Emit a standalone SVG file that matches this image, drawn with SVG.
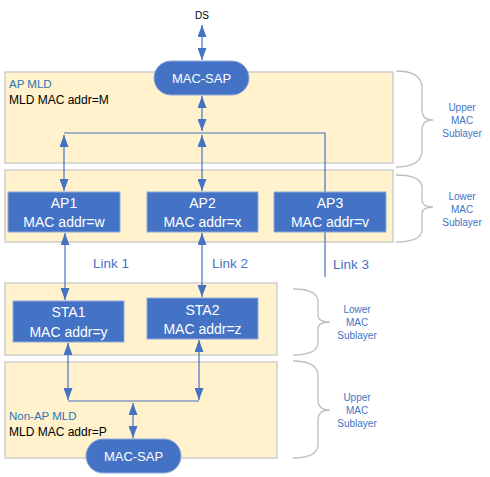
<svg xmlns="http://www.w3.org/2000/svg" width="490" height="477" viewBox="0 0 490 477">
<style>
.layer{fill:#fff2cc;stroke:#d0cece;stroke-width:1.5}
.node{fill:#4472c4;stroke:#8faadc;stroke-width:1}
.nt{fill:#ffffff;font-family:"Liberation Sans",Arial,sans-serif;font-size:14px;text-anchor:middle}
.sap{fill:#ffffff;font-family:"Liberation Sans",Arial,sans-serif;font-size:13px;text-anchor:middle}
.conn{stroke:#4472c4;stroke-width:1.2;fill:none}
.brace{stroke:#bfbfbf;stroke-width:1.3;fill:none}
.sub{fill:#4472c4;font-family:"Liberation Sans",Arial,sans-serif;font-size:10px;text-anchor:middle}
.link{fill:#4472c4;font-family:"Liberation Sans",Arial,sans-serif;font-size:13.5px}
.mld{fill:#2e75b6;font-family:"Liberation Sans",Arial,sans-serif;font-size:11.5px}
.addr{fill:#000000;font-family:"Liberation Sans",Arial,sans-serif;font-size:12px}
</style>
<defs>
<marker id="ah" markerWidth="12" markerHeight="9" refX="12" refY="4.5" orient="auto-start-reverse" markerUnits="userSpaceOnUse" viewBox="0 0 12 9">
<path d="M0,0 L12,4.5 L0,9 Z" fill="#4472c4"/>
</marker>
</defs>
<g id="layers">
<rect id="ap-upper" class="layer" x="5" y="72" width="388" height="91"/>
<rect id="ap-lower" class="layer" x="5" y="170" width="388" height="72"/>
<rect id="sta-lower" class="layer" x="5" y="283" width="272" height="72"/>
<rect id="sta-upper" class="layer" x="5" y="362" width="272" height="96"/>
</g>
<g id="braces">
<path class="brace" d="M396,71 Q422,71 422,88 L422,110 Q422,120 433,120 Q422,120 422,130 L422,150 Q422,167 396,167"/>
<path class="brace" d="M396,175 Q422,175 422,188 L422,200 Q422,207 433,207 Q422,207 422,214 L422,229 Q422,242 396,242"/>
<path class="brace" d="M293,289 Q318,289 318,302 L318,315 Q318,322 330,322 Q318,322 318,329 L318,342 Q318,355 293,355"/>
<path class="brace" d="M293,361 Q318,361 318,376 L318,400 Q318,410 330,410 Q318,410 318,420 L318,444 Q318,458 293,458"/>
</g>
<g id="connectors">
<line class="conn" x1="202" y1="25" x2="202" y2="60" marker-start="url(#ah)" marker-end="url(#ah)"/>
<line class="conn" x1="202" y1="96" x2="202" y2="131" marker-start="url(#ah)" marker-end="url(#ah)"/>
<polyline class="conn" points="64,133 325,133 325,277"/>
<line class="conn" x1="64" y1="135" x2="64" y2="191" marker-start="url(#ah)" marker-end="url(#ah)"/>
<line class="conn" x1="202" y1="135" x2="202" y2="191" marker-start="url(#ah)" marker-end="url(#ah)"/>
<line class="conn" x1="65" y1="233" x2="65" y2="300" marker-start="url(#ah)" marker-end="url(#ah)"/>
<line class="conn" x1="202" y1="233" x2="202" y2="297" marker-start="url(#ah)" marker-end="url(#ah)"/>
<line class="conn" x1="68" y1="343" x2="68" y2="400" marker-start="url(#ah)" marker-end="url(#ah)"/>
<line class="conn" x1="199" y1="340" x2="199" y2="400" marker-start="url(#ah)" marker-end="url(#ah)"/>
<line class="conn" x1="68" y1="401" x2="199" y2="401"/>
<line class="conn" x1="133" y1="403" x2="133" y2="438" marker-start="url(#ah)" marker-end="url(#ah)"/>
</g>
<g id="labels">
<text x="202" y="19" style="font-family:'Liberation Sans',Arial,sans-serif;font-size:10px;text-anchor:middle;fill:#000">DS</text>
<text class="mld" x="9" y="88">AP MLD</text>
<text class="addr" x="9" y="104">MLD MAC addr=M</text>
<text class="mld" x="9" y="420">Non-AP MLD</text>
<text class="addr" x="9" y="436">MLD MAC addr=P</text>
<text class="link" x="93" y="268">Link 1</text>
<text class="link" x="212" y="268">Link 2</text>
<text class="link" x="333" y="269">Link 3</text>
<text class="sub" x="462" y="111">Upper</text>
<text class="sub" x="462" y="124">MAC</text>
<text class="sub" x="462" y="137">Sublayer</text>
<text class="sub" x="462" y="200">Lower</text>
<text class="sub" x="462" y="213">MAC</text>
<text class="sub" x="462" y="226">Sublayer</text>
<text class="sub" x="357" y="313">Lower</text>
<text class="sub" x="357" y="326">MAC</text>
<text class="sub" x="357" y="339">Sublayer</text>
<text class="sub" x="357" y="401">Upper</text>
<text class="sub" x="357" y="414">MAC</text>
<text class="sub" x="357" y="427">Sublayer</text>
</g>
<g id="mac-sap-ap">
<rect class="node" x="154" y="61" width="95" height="34" rx="17"/>
<text class="sap" x="201.5" y="83">MAC-SAP</text>
</g>
<g id="ap1">
<rect class="node" x="8" y="192" width="112" height="40"/>
<text class="nt" x="64" y="208">AP1</text>
<text class="nt" x="64" y="227">MAC addr=w</text>
</g>
<g id="ap2">
<rect class="node" x="147" y="192" width="111" height="40"/>
<text class="nt" x="202.5" y="208">AP2</text>
<text class="nt" x="202.5" y="227">MAC addr=x</text>
</g>
<g id="ap3">
<rect class="node" x="274" y="192" width="112" height="40"/>
<text class="nt" x="330" y="208">AP3</text>
<text class="nt" x="330" y="227">MAC addr=v</text>
</g>
<g id="sta1">
<rect class="node" x="13" y="301" width="111" height="41"/>
<text class="nt" x="68.5" y="317">STA1</text>
<text class="nt" x="68.5" y="337">MAC addr=y</text>
</g>
<g id="sta2">
<rect class="node" x="147" y="298" width="111" height="41"/>
<text class="nt" x="202.5" y="315">STA2</text>
<text class="nt" x="202.5" y="334">MAC addr=z</text>
</g>
<g id="mac-sap-sta">
<rect class="node" x="86" y="439" width="95" height="34" rx="17"/>
<text class="sap" x="133.5" y="461">MAC-SAP</text>
</g>
</svg>
